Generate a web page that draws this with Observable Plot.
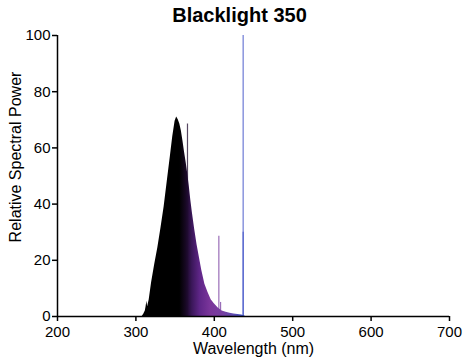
<!DOCTYPE html>
<html><head><meta charset="utf-8">
<style>
body{margin:0;background:#fff;}
</style>
<script src="https://cdn.jsdelivr.net/npm/d3@7"></script>
<script src="https://cdn.jsdelivr.net/npm/@observablehq/plot@0.6"></script>
</head><body><div id="chart"></div>
<script>
const titleText = "Blacklight 350";
const xLabel = "Wavelength (nm)";
const yLabel = "Relative Spectral Power";
const xTicks = [200, 300, 400, 500, 600, 700];
const yTicks = [0, 20, 40, 60, 80, 100];

// smooth phosphor band (nm, relative power)
const wavelength = [308, 310, 312, 313, 314, 315, 317, 320, 324, 328, 332, 336, 340, 344, 347, 350, 352, 354, 356, 358, 360, 362, 364, 366, 368, 370, 372, 375, 378, 381, 384, 388, 392, 396, 400, 405, 410, 415, 420, 425, 430, 435, 438, 440];
const power      = [0, 0.8, 2, 3.5, 5.4, 3.5, 6, 12, 18.5, 24.5, 31.5, 39, 48, 57, 64, 69.5, 71, 70, 68.5, 66, 62.5, 58.5, 55, 51, 46.5, 41.5, 37, 31, 25.5, 21, 16.5, 11.5, 8.5, 6, 4.5, 3, 2, 1.5, 1.2, 0.9, 0.7, 0.5, 0.3, 0];

// mercury lines
const spikeWavelength = [365.8, 405.8, 408, 436.8, 436.8];
const spikePower      = [68.5, 28.6, 5, 100, 30];

// colour by wavelength
const colorWavelength = [356, 364, 372, 382, 395, 412, 426, 437];
const colorHex = ["#000000", "#170823", "#3b175a", "#5f2688", "#7a359a", "#7640a2", "#5c4cb2", "#3b4ec6"];

const spectrum = wavelength.map((w, i) => ({w, p: power[i]}));
const spikes = spikeWavelength.map((w, i) => ({w, p: spikePower[i]}));

const gradientDefs = (index, scales) => {
  const x = scales.x, c = scales.color;
  const x0 = x(colorWavelength[0]), x1 = x(colorWavelength[colorWavelength.length - 1]);
  const defs = d3.create("svg:defs");
  const g = defs.append("linearGradient").attr("id", "spd").attr("gradientUnits", "userSpaceOnUse")
    .attr("x1", x0).attr("x2", x1).attr("y1", 0).attr("y2", 0);
  for (const w of colorWavelength) g.append("stop").attr("offset", (x(w) - x0) / (x1 - x0)).attr("stop-color", c(w));
  return defs.node();
};

const chart = Plot.plot({
  width: 466,
  height: 360,
  marginLeft: 57,
  marginRight: 17,
  marginTop: 35,
  marginBottom: 44,
  style: {fontFamily: "'Liberation Sans', Arial, sans-serif", fontSize: "15px", color: "black", background: "white"},
  x: {domain: [200, 700]},
  y: {domain: [0, 100]},
  color: {type: "linear", domain: colorWavelength, range: colorHex},
  marks: [
    gradientDefs,
    Plot.areaY(spectrum, {x: "w", y: "p", fill: "url(#spd)", curve: "linear"}),
    Plot.ruleX(spikes, {x: "w", y1: 0, y2: "p", stroke: "w", strokeWidth: 1.2, strokeOpacity: 0.75}),
    Plot.axisX({ticks: xTicks, tickSize: 5, tickPadding: 5, label: null, fontSize: 15, strokeWidth: 1.5}),
    Plot.axisY({ticks: yTicks, tickSize: 5, tickPadding: 2, label: null, fontSize: 15, strokeWidth: 1.5}),
    Plot.ruleY([yTicks[0]], {stroke: "black", strokeWidth: 1.5}),
    Plot.ruleX([xTicks[0]], {stroke: "black", strokeWidth: 1.5}),
    Plot.text([xLabel], {text: d => d, frameAnchor: "bottom", lineAnchor: "middle", dy: 32, fontSize: 16}),
    Plot.text([yLabel], {text: d => d, frameAnchor: "left", textAnchor: "middle", lineAnchor: "middle", rotate: -90, dx: -42, dy: -19, fontSize: 16}),
    Plot.text([titleText], {text: d => d, frameAnchor: "top", lineAnchor: "middle", dy: -20, dx: -14, fontSize: 20, fontWeight: "bold"})
  ]
});
document.getElementById("chart").append(chart);
</script>
</body></html>
